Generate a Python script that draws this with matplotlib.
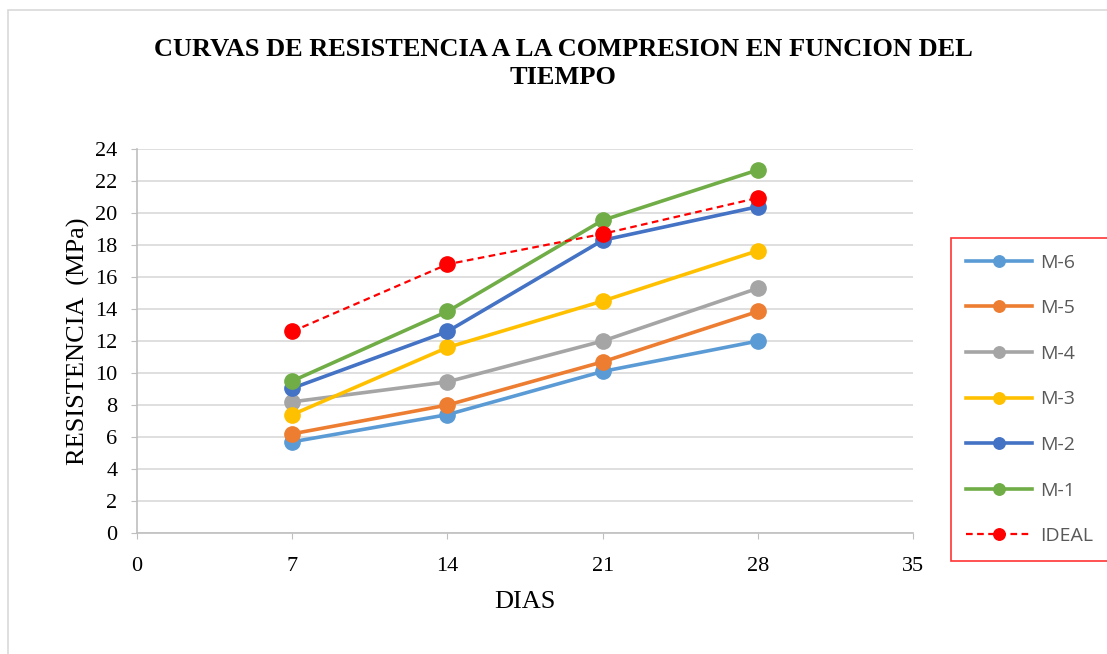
import numpy as np
import matplotlib.pyplot as plt
from matplotlib.patches import Rectangle

dias = [7, 14, 21, 28]
m6 = [5.7, 7.4, 10.1, 12.0]
m5 = [6.2, 8.0, 10.7, 13.85]
m4 = [8.2, 9.45, 12.0, 15.3]
m3 = [7.4, 11.6, 14.5, 17.65]
m2 = [9.05, 12.6, 18.3, 20.4]
m1 = [9.5, 13.85, 19.55, 22.7]
ideal = [12.6, 16.8, 18.7, 20.95]

series = [("M-6", m6, "#5b9bd5"), ("M-5", m5, "#ed7d31"), ("M-4", m4, "#a5a5a5"),
          ("M-3", m3, "#ffc000"), ("M-2", m2, "#4472c4"), ("M-1", m1, "#70ad47")]

serif = "Liberation Serif"

fig = plt.figure(figsize=(11.07, 6.54), dpi=100)
ax = fig.add_axes([0.1238, 0.185, 0.7010, 0.587])

for name, vals, col in series:
    ax.plot(dias, vals, color=col, lw=2.6, marker="o", ms=11, label=name, zorder=3)
ax.plot(dias, ideal, color="#ff0000", lw=1.6, ls=(0, (3, 2)), marker="o", ms=11,
        label="IDEAL", zorder=4)

ax.set_xlim(0, 35)
ax.set_ylim(0, 24)
ax.set_xticks(np.arange(0, 36, 7))
ax.set_yticks(np.arange(0, 25, 2))
ax.grid(axis="y", color="#d9d9d9", lw=1.2)
ax.set_axisbelow(True)
for s in ["top", "right"]:
    ax.spines[s].set_visible(False)
for s in ["left", "bottom"]:
    ax.spines[s].set_color("#bfbfbf")
    ax.spines[s].set_linewidth(1.2)
ax.tick_params(axis="both", colors="#bfbfbf", length=4, labelcolor="black", labelsize=16)
ax.tick_params(axis="y", pad=10)
ax.tick_params(axis="x", pad=13)
for lbl in ax.get_xticklabels() + ax.get_yticklabels():
    lbl.set_family(serif)

ax.set_xlabel("DIAS", family=serif, fontsize=19, labelpad=11)
ax.set_ylabel("RESISTENCIA  (MPa)", family=serif, fontsize=19, labelpad=4)

fig.text(0.509, 0.903, "CURVAS DE RESISTENCIA A LA COMPRESION EN FUNCION DEL\nTIEMPO",
         ha="center", va="center", family=serif, weight="bold", fontsize=19,
         linespacing=1.3)

leg = ax.legend(loc="center left", bbox_to_anchor=(1.036, 0.348), frameon=True,
                fancybox=False, edgecolor="#ff0000", labelspacing=1.42,
                handlelength=3.4, handletextpad=0.4, borderpad=0.8,
                markerscale=0.75, prop={"family": "Open Sans", "size": 14})
leg.get_frame().set_linewidth(1.2)
for t in leg.get_texts():
    t.set_color("#595959")

fig.patches.append(Rectangle((0.007, -0.01), 1.0, 0.995, transform=fig.transFigure,
                             fill=False, edgecolor="#d9d9d9", lw=1.2))

fig.savefig("out.png", dpi=100)
